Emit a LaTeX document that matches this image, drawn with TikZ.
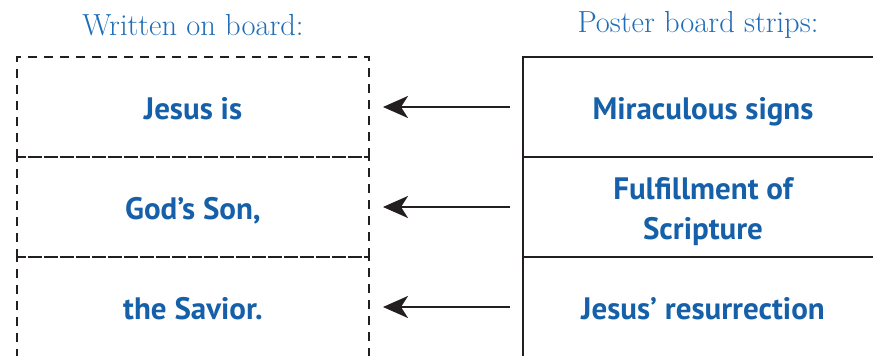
\documentclass[tikz,border=0pt]{standalone}
\usepackage{fontspec}
\setsansfont{PT Sans}
\usetikzlibrary{arrows.meta,positioning}

\definecolor{strip blue}{HTML}{1560A8}
\definecolor{title blue}{HTML}{1F6DB8}
\definecolor{line gray}{HTML}{231F20}

\begin{document}
\begin{tikzpicture}[
  x=1pt, y=1pt,
  board/.style={
    rectangle,
    draw=line gray,
    line width=2.3pt,
    dash pattern=on 9pt off 7pt,
    minimum height=100pt, minimum width=352pt,
    text height=33pt, text depth=7pt,
    outer sep=0pt,
    text=strip blue,
    font=\sffamily\bfseries\fontsize{31}{40}\selectfont
  },
  strip/.style={
    rectangle,
    draw=line gray,
    line width=2.3pt,
    minimum height=100pt, minimum width=360pt,
    text height=33pt, text depth=7pt,
    outer sep=0pt,
    align=center,
    text=strip blue,
    font=\sffamily\bfseries\fontsize{31}{40}\selectfont
  },
  heading/.style={
    text=title blue,
    font=\fontsize{30.5}{34}\selectfont
  },
  link/.style={
    -{Stealth[length=25pt,width=22pt,inset=7pt]},
    line width=2.4pt,
    draw=line gray,
    shorten >=14pt, shorten <=13pt
  }
  ]
\useasboundingbox (0,0) rectangle (873,356);
\clip (0,0) rectangle (873,356);
% Written on board
\node [heading] (board title) at (193,331) {Written on board:};
\node [board] (board jesus) at (193,249) {Jesus is};
\node [board] (board son) at (193,149) {God’s Son,};
\node [board] (board savior) at (193,49) {the Savior.};
% Poster board strips
\node [heading] (strip title) at (698,331) {Poster board strips:};
\node [strip] (strip signs) at (703,249) {Miraculous signs};
\node [strip, text height=73pt] (strip scripture) at (703,149) {Fulfillment of\\Scripture};
\node [strip] (strip resurrection) at (703,49) {Jesus’ resurrection};
% Arrows
\draw [link] (strip signs.west) -- (board jesus.east);
\draw [link] (strip scripture.west) -- (board son.east);
\draw [link] (strip resurrection.west) -- (board savior.east);
\end{tikzpicture}
\end{document}
